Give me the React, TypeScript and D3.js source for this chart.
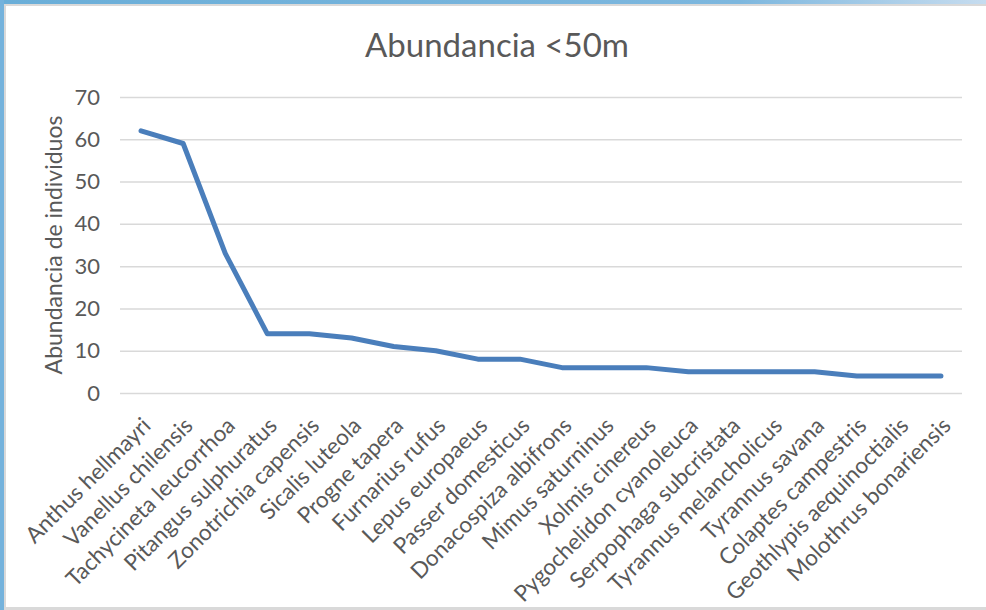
import React, { useRef, useEffect } from "react";
import * as d3 from "d3";

const width = 986;
const height = 610;
const margin = { top: 97, left: 120, bottom: 217, right: 24 };
const iwidth = width - margin.left - margin.right;
const iheight = height - margin.top - margin.bottom;

const species = [
  "Anthus hellmayri",
  "Vanellus chilensis",
  "Tachycineta leucorrhoa",
  "Pitangus sulphuratus",
  "Zonotrichia capensis",
  "Sicalis luteola",
  "Progne tapera",
  "Furnarius rufus",
  "Lepus europaeus",
  "Passer domesticus",
  "Donacospiza albifrons",
  "Mimus saturninus",
  "Xolmis cinereus",
  "Pygochelidon cyanoleuca",
  "Serpophaga subcristata",
  "Tyrannus melancholicus",
  "Tyrannus savana",
  "Colaptes campestris",
  "Geothlypis aequinoctialis",
  "Molothrus bonariensis",
];
const abundance = [62, 59, 33, 14, 14, 13, 11, 10, 8, 8, 6, 6, 6, 5, 5, 5, 5, 4, 4, 4];
const yTicks = [0, 10, 20, 30, 40, 50, 60, 70];

const font = "Lato, 'Open Sans', sans-serif";
const textColor = "#595959";

const App = () => {
  const ref = useRef<SVGSVGElement>(null);

  useEffect(() => {
    document.body.style.margin = "0";
    const svg = d3.select(ref.current);
    svg.selectAll("*").remove();
    svg.attr("width", width).attr("height", height);

    // frame like the screenshot
    const defs = svg.append("defs");
    const grad = defs.append("linearGradient").attr("id", "topband");
    grad.append("stop").attr("offset", "0%").attr("stop-color", "#6aaed8");
    grad.append("stop").attr("offset", "75%").attr("stop-color", "#7db7de");
    grad.append("stop").attr("offset", "100%").attr("stop-color", "#c6dcef");
    svg.append("rect").attr("width", width).attr("height", height).attr("fill", "#fff");
    svg.append("rect").attr("x", 0).attr("y", 0).attr("width", width).attr("height", 4).attr("fill", "url(#topband)");
    svg.append("rect").attr("x", 0).attr("y", 0).attr("width", 4).attr("height", height).attr("fill", "#74b2dc");
    svg.append("rect").attr("x", 4).attr("y", 4).attr("width", width - 4).attr("height", 2).attr("fill", "#d9d9d9");
    svg.append("rect").attr("x", 4).attr("y", 4).attr("width", 2).attr("height", height - 4).attr("fill", "#d9d9d9");
    svg.append("rect").attr("x", 4).attr("y", 607).attr("width", width - 4).attr("height", 3).attr("fill", "#d9d9d9");

    svg
      .append("text")
      .attr("x", 497)
      .attr("y", 57)
      .attr("text-anchor", "middle")
      .style("font-family", font)
      .style("font-size", "33px")
      .style("fill", textColor)
      .text("Abundancia <50m");

    const g = svg.append("g").attr("transform", `translate(${margin.left},${margin.top})`);

    const y = d3.scaleLinear().domain([0, 70]).range([iheight, 0]);
    const x = d3.scaleBand().domain(species).range([0, iwidth]);

    const yAxis = g
      .append("g")
      .call(d3.axisLeft(y).tickValues(yTicks).tickSize(-iwidth).tickPadding(20));
    yAxis.select(".domain").remove();
    yAxis.selectAll(".tick line").attr("stroke", "#d9d9d9").attr("stroke-width", 1.5);
    yAxis
      .selectAll(".tick text")
      .style("font-family", font)
      .style("font-size", "22px")
      .style("fill", textColor);

    const xAxis = g
      .append("g")
      .attr("transform", `translate(0,${iheight})`)
      .call(d3.axisBottom(x).tickSize(0));
    xAxis.select(".domain").remove();
    xAxis
      .selectAll(".tick text")
      .style("font-family", font)
      .style("font-size", "22.5px")
      .style("fill", textColor)
      .attr("text-anchor", "end")
      .attr("dy", 0)
      .attr("transform", "translate(9,32) rotate(-45)");

    const line = d3
      .line<number>()
      .x((d, i) => (x(species[i]) as number) + x.bandwidth() / 2)
      .y((d) => y(d));

    g.append("path")
      .datum(abundance)
      .attr("fill", "none")
      .attr("stroke", "#4a7ebb")
      .attr("stroke-width", 5)
      .attr("stroke-linejoin", "round")
      .attr("stroke-linecap", "round")
      .attr("d", line);

    svg
      .append("text")
      .attr("transform", `translate(62,${margin.top + iheight / 2}) rotate(-90)`)
      .attr("text-anchor", "middle")
      .style("font-family", font)
      .style("font-size", "23px")
      .style("fill", textColor)
      .text("Abundancia de individuos");
  }, []);

  return (
    <div id="chart">
      <svg ref={ref}></svg>
    </div>
  );
};
export default App;
